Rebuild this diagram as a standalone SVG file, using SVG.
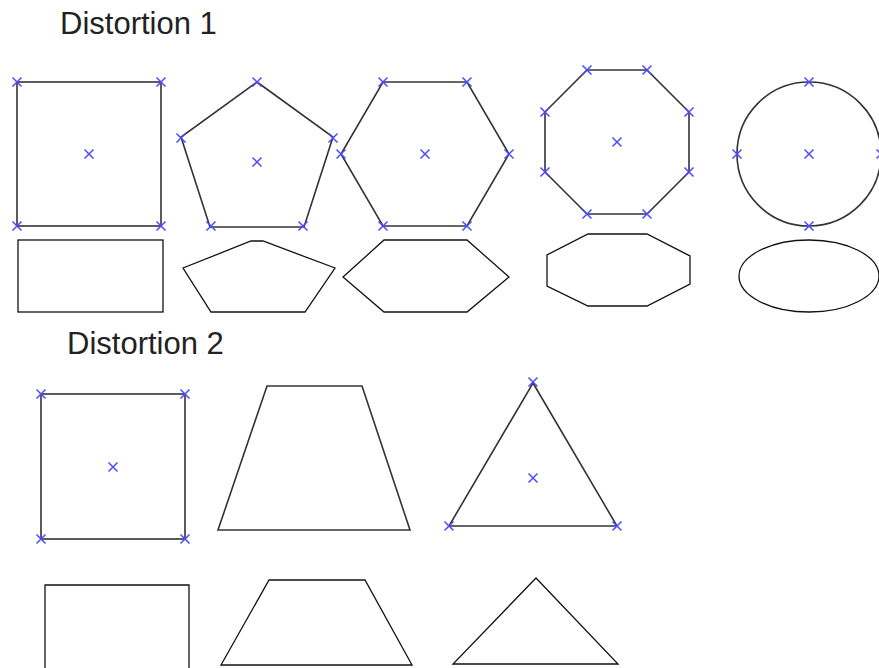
<svg xmlns="http://www.w3.org/2000/svg" xmlns:xlink="http://www.w3.org/1999/xlink" width="879" height="668" viewBox="0 0 879 668">
<style>
.s{fill:none;stroke:#333;stroke-width:1.6}
.d{fill:none;stroke:#111;stroke-width:1.3}
.t{font-family:"Liberation Sans",Arial,sans-serif;font-size:31px;fill:#222}
.m{fill:none;stroke:#4a4aff;stroke-width:1.5}
</style>
<defs>
<path id="x" class="m" d="M-4.5,-4.5L4.5,4.5M-4.5,4.5L4.5,-4.5"/>
</defs>
<rect width="879" height="668" fill="#fff"/>
<text class="t" x="60" y="34">Distortion 1</text>
<text class="t" x="67" y="354">Distortion 2</text>
<g id="square1">
<rect class="s" x="17" y="82" width="144" height="144"/>
<use xlink:href="#x" x="17" y="82"/><use xlink:href="#x" x="161" y="82"/><use xlink:href="#x" x="17" y="226"/><use xlink:href="#x" x="161" y="226"/><use xlink:href="#x" x="89" y="154"/>
</g>
<g id="rect1"><rect class="d" x="18" y="240" width="145" height="72"/></g>
<g id="pentagon1">
<polygon class="s" points="257,82 333,137 304,227 210,227 181,137"/>
<use xlink:href="#x" x="257" y="82"/><use xlink:href="#x" x="333" y="138"/><use xlink:href="#x" x="303" y="226"/><use xlink:href="#x" x="211" y="226"/><use xlink:href="#x" x="181" y="138"/><use xlink:href="#x" x="257" y="162"/>
</g>
<g id="pentagon2"><polygon class="d" points="251,241 263,241 335,268 305,312 211,312 183,268"/></g>
<g id="hexagon1">
<polygon class="s" points="383,82 467,82 509,154 467,226 383,226 341,154"/>
<use xlink:href="#x" x="383" y="82"/><use xlink:href="#x" x="467" y="82"/><use xlink:href="#x" x="509" y="154"/><use xlink:href="#x" x="467" y="226"/><use xlink:href="#x" x="383" y="226"/><use xlink:href="#x" x="341" y="154"/><use xlink:href="#x" x="425" y="154"/>
</g>
<g id="hexagon2"><polygon class="d" points="384,240 467,240 509,277 467,312 384,312 343,277"/></g>
<g id="octagon1">
<polygon class="s" points="587,70 647,70 689,112 689,172 647,214 587,214 545,172 545,112"/>
<use xlink:href="#x" x="587" y="70"/><use xlink:href="#x" x="647" y="70"/><use xlink:href="#x" x="689" y="112"/><use xlink:href="#x" x="689" y="172"/><use xlink:href="#x" x="647" y="214"/><use xlink:href="#x" x="587" y="214"/><use xlink:href="#x" x="545" y="172"/><use xlink:href="#x" x="545" y="112"/><use xlink:href="#x" x="617" y="142"/>
</g>
<g id="octagon2"><polygon class="d" points="588,234 647,234 690,256 690,284 647,306 588,306 547,286 547,255"/></g>
<g id="circle1">
<circle class="s" cx="809" cy="154" r="72"/>
<use xlink:href="#x" x="809" y="82"/><use xlink:href="#x" x="881" y="154"/><use xlink:href="#x" x="809" y="226"/><use xlink:href="#x" x="737" y="154"/><use xlink:href="#x" x="809" y="154"/>
</g>
<g id="ellipse1"><ellipse class="d" cx="809" cy="276" rx="70" ry="36"/></g>
<g id="square2">
<rect class="s" x="41" y="394" width="144" height="145"/>
<use xlink:href="#x" x="41" y="394"/><use xlink:href="#x" x="185" y="394"/><use xlink:href="#x" x="41" y="539"/><use xlink:href="#x" x="185" y="539"/><use xlink:href="#x" x="113" y="467"/>
</g>
<g id="rect2"><polyline class="d" points="45,670 45,585 189,585 189,670"/></g>
<g id="trapezoid1"><polygon class="s" points="267,386 362,386 410,530 218,530"/></g>
<g id="trapezoid2"><polygon class="d" points="269,580 365,580 412,665 221,665"/></g>
<g id="triangle1">
<polygon class="s" points="533,383 617,526 449,526"/>
<use xlink:href="#x" x="533" y="382"/><use xlink:href="#x" x="617" y="526"/><use xlink:href="#x" x="449" y="526"/><use xlink:href="#x" x="533" y="478"/>
</g>
<g id="triangle2"><polygon class="d" points="536,578 618,664 453,664"/></g>
<g id="connectors"></g>
</svg>
